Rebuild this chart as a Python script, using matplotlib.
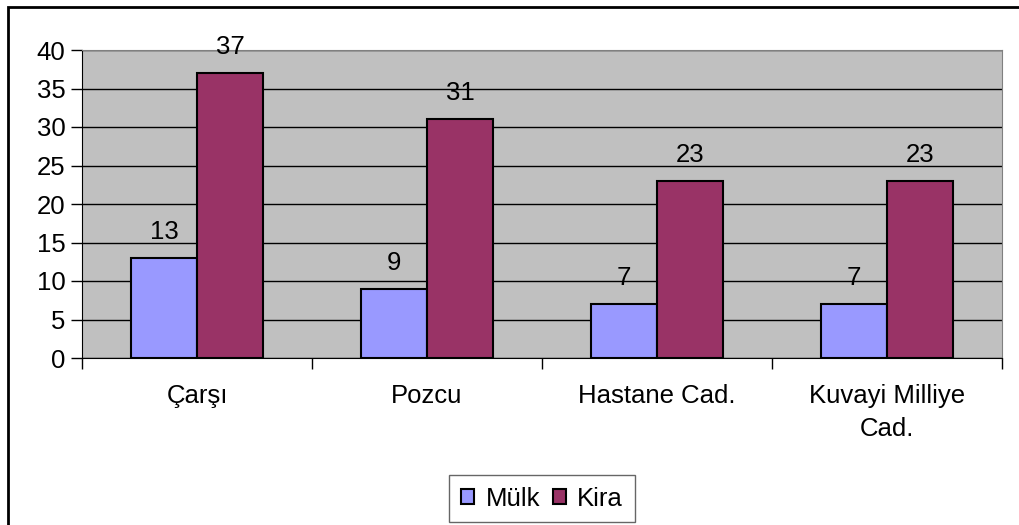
import numpy as np
import matplotlib.pyplot as plt
from matplotlib.patches import Rectangle

categories = ["Çarşı", "Pozcu", "Hastane Cad.", "Kuvayi Milliye\nCad."]
mulk = [13, 9, 7, 7]
kira = [37, 31, 23, 23]

plt.rcParams['font.family'] = ['Liberation Sans', 'DejaVu Sans']
fs = 18.5

fig = plt.figure(figsize=(10.19, 5.25), dpi=100)
ax = fig.add_axes([82/1019, 1-358/525, 920/1019, 308/525])
ax.set_facecolor("#C0C0C0")

x = np.arange(len(categories))
w = 0.287
b1 = ax.bar(x - w/2, mulk, w, color="#9999FF", edgecolor="black", linewidth=1.5, label="Mülk", zorder=3)
b2 = ax.bar(x + w/2, kira, w, color="#993366", edgecolor="black", linewidth=1.5, label="Kira", zorder=3)
for bars in (b1, b2):
    ax.bar_label(bars, padding=10, fontsize=fs)

ax.set_xlim(-0.5, len(categories) - 0.5)
ax.set_ylim(0, 40)
ax.set_yticks(range(0, 41, 5))
ax.yaxis.grid(True, color="black", linewidth=1, zorder=1)
ax.tick_params(axis='y', labelsize=fs, length=8, width=1, direction='out', pad=4)

ax.set_xticks(x)
ax.set_xticklabels(categories, fontsize=fs, linespacing=1.45)
ax.tick_params(axis='x', length=0, pad=19)
ax.set_xticks(np.arange(-0.5, len(categories)), minor=True)
ax.tick_params(axis='x', which='minor', length=8, width=1)

for s in ("top", "right"):
    ax.spines[s].set_color("#808080")
for s in ("left", "bottom"):
    ax.spines[s].set_color("black")

leg = ax.legend(loc="upper center", bbox_to_anchor=(0.5, -0.38), ncol=2, fontsize=fs,
                frameon=True, fancybox=False, edgecolor="#404040", handlelength=0.5,
                handleheight=0.5, handletextpad=0.45, columnspacing=0.5, borderpad=0.45,
                borderaxespad=0)
leg.get_frame().set_linewidth(1)

fig.patches.append(Rectangle((8/1019, -0.05), 1.1, 1.05 - 7/525, transform=fig.transFigure,
                             fill=False, edgecolor="black", linewidth=2))

fig.savefig("out.png", dpi=100)
